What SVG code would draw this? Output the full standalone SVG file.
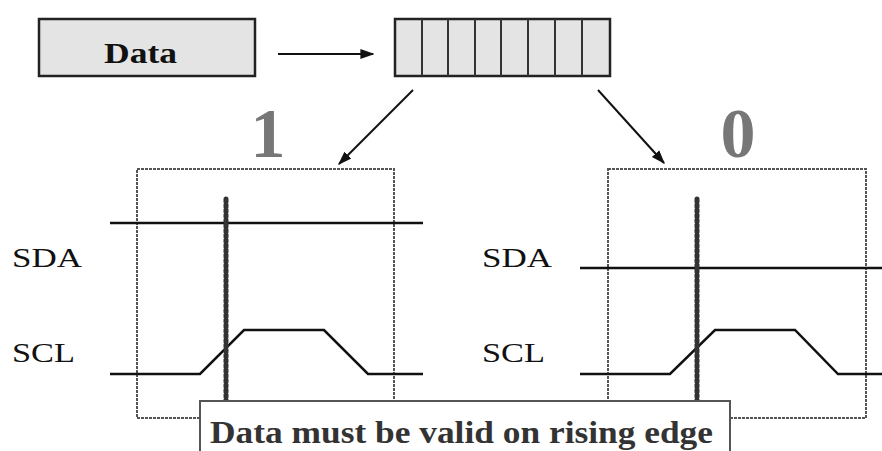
<svg xmlns="http://www.w3.org/2000/svg" width="882" height="451" viewBox="0 0 882 451">
<style>
.box{fill:#e4e4e4;stroke:#222;stroke-width:2.5}
.cell{stroke:#333;stroke-width:2}
.frame{fill:none;stroke:#555;stroke-width:2;stroke-dasharray:3 1}
.sig{fill:none;stroke:#111;stroke-width:2.5}
.probe{stroke:#333;stroke-width:5;stroke-dasharray:3 2;stroke-linecap:round}
.lbl{font-family:"Liberation Serif","Times New Roman",serif;font-size:27px;fill:#111}
.big{font-family:"Liberation Serif","Times New Roman",serif;font-weight:bold;font-size:70px;fill:#777}
.conn{stroke:#111;stroke-width:2;fill:none}
</style>
<defs>
<marker id="ah" viewBox="0 0 10 10" refX="9" refY="5" markerWidth="9" markerHeight="9" markerUnits="userSpaceOnUse" orient="auto">
<path d="M0,1 L10,5 L0,9 Z" fill="#111"/>
</marker>
<marker id="ah2" viewBox="0 0 10 10" refX="9" refY="5" markerWidth="14" markerHeight="14" markerUnits="userSpaceOnUse" orient="auto">
<path d="M0,1.5 L10,5 L0,8.5 Z" fill="#111"/>
</marker>
</defs>
<g id="data">
<rect class="box" x="39" y="19" width="216" height="57"/>
<text x="104" y="63" textLength="73" lengthAdjust="spacingAndGlyphs" style="font-family:'Liberation Serif','Times New Roman',serif;font-weight:bold;font-size:29px;fill:#111">Data</text>
</g>
<g id="register">
<rect class="box" x="395" y="19" width="215" height="57"/>
<path class="cell" d="M422,19V76M448,19V76M475,19V76M501,19V76M528,19V76M555,19V76M582,19V76"/>
</g>
<g id="connectors">
<line class="conn" x1="278" y1="54" x2="373" y2="54" marker-end="url(#ah2)"/>
<line class="conn" x1="413" y1="90" x2="339" y2="164" marker-end="url(#ah2)"/>
<line class="conn" x1="598" y1="90" x2="664" y2="163" marker-end="url(#ah2)"/>
</g>
<g id="bit1">
<text class="big" x="268" y="157" text-anchor="middle">1</text>
<rect class="frame" x="137" y="169" width="257" height="249"/>
<text class="lbl" x="12" y="267" textLength="70" lengthAdjust="spacingAndGlyphs">SDA</text>
<text class="lbl" x="12" y="362" textLength="63" lengthAdjust="spacingAndGlyphs">SCL</text>
<line class="sig" x1="110" y1="223" x2="423" y2="223"/>
<path class="sig" d="M110,374H200L244,330H324L368,374H423"/>
<line class="probe" x1="226" y1="199" x2="226" y2="402"/>
</g>
<g id="bit0">
<text class="big" x="738" y="157" text-anchor="middle">0</text>
<rect class="frame" x="608" y="169" width="258" height="249"/>
<text class="lbl" x="482" y="267" textLength="70" lengthAdjust="spacingAndGlyphs">SDA</text>
<text class="lbl" x="482" y="362" textLength="63" lengthAdjust="spacingAndGlyphs">SCL</text>
<line class="sig" x1="580" y1="268" x2="882" y2="268"/>
<path class="sig" d="M580,374H670L715,330H795L838,374H882"/>
<line class="probe" x1="697" y1="199" x2="697" y2="402"/>
</g>
<g id="note">
<rect x="200" y="401" width="530" height="55" fill="#fff" stroke="#555" stroke-width="2"/>
<text x="210" y="443" textLength="503" lengthAdjust="spacingAndGlyphs" style="font-family:'Liberation Serif','Times New Roman',serif;font-weight:bold;font-size:31px;fill:#333">Data must be valid on rising edge</text>
</g>
</svg>
